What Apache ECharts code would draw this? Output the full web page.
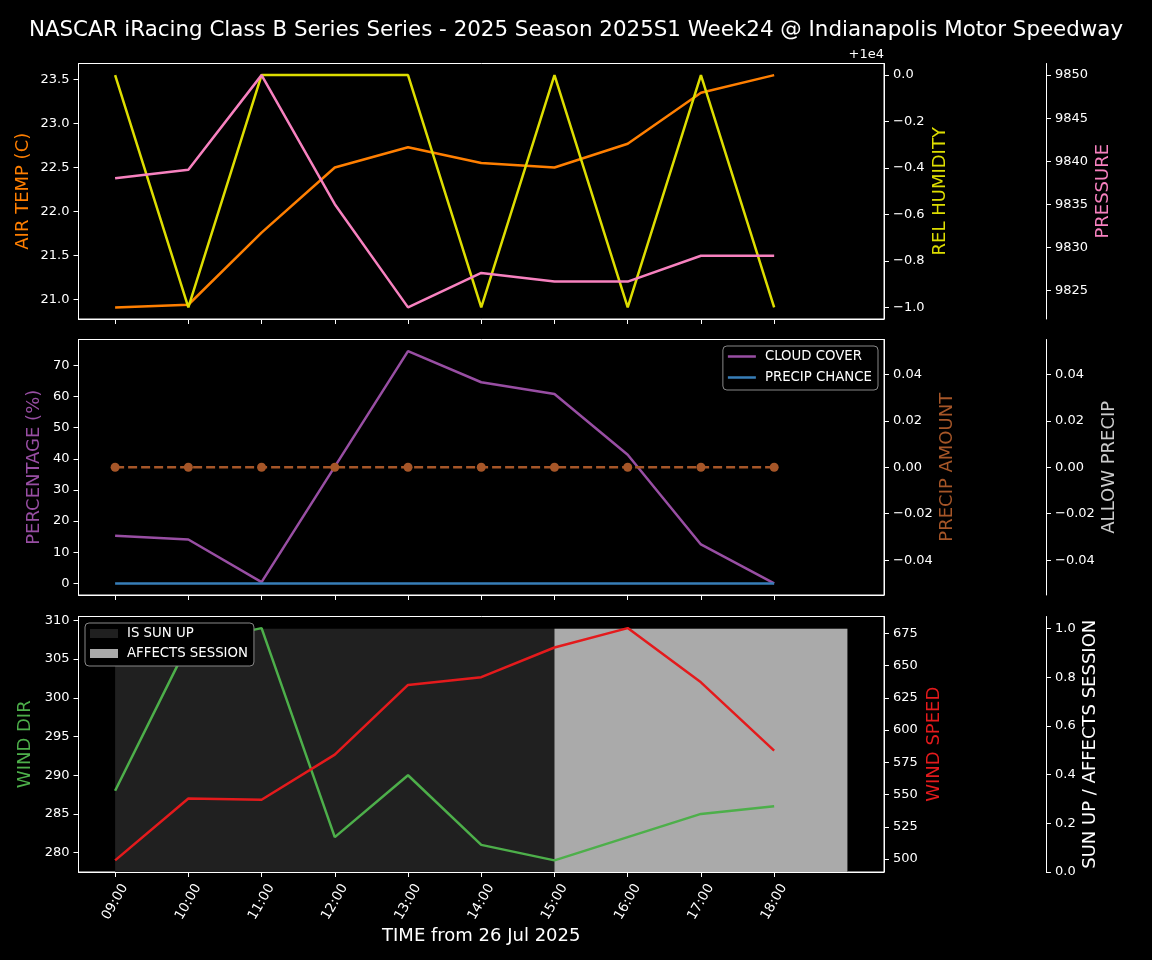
<!DOCTYPE html>
<html>
<head>
<meta charset="utf-8">
<script src="https://cdn.jsdelivr.net/npm/echarts@6/dist/echarts.min.js"></script>
<style>
html,body{margin:0;padding:0;background:#000;}
#chart{width:1152px;height:960px;}
</style>
</head>
<body>
<div id="chart"></div>
<script>
// ---- data ----
var timeLabels = ['09:00','10:00','11:00','12:00','13:00','14:00','15:00','16:00','17:00','18:00'];
var airTemp = [20.91, 20.94, 21.76, 22.50, 22.73, 22.55, 22.50, 22.77, 23.35, 23.55];
var relHumidity = [10000, 9999, 10000, 10000, 10000, 9999, 10000, 9999, 10000, 9999];
var pressure = [9838, 9839, 9850, 9835, 9823, 9827, 9826, 9826, 9829, 9829];
var cloudCover = [15.3, 14.1, 0.4, 37.5, 74.6, 64.6, 60.8, 41.3, 12.5, 0.0];
var precipChance = [0, 0, 0, 0, 0, 0, 0, 0, 0, 0];
var precipAmount = [0, 0, 0, 0, 0, 0, 0, 0, 0, 0];
var windDir = [288, 307, 309, 282, 290, 281, 279, 282, 285, 286];
var windSpeed = [499, 547, 546, 581, 635, 641, 664, 679, 637, 584];
// hourly 09:00 .. 19:00
var isSunUp = [1, 1, 1, 1, 1, 1, 1, 1, 1, 1, 1];
var affectsSession = [0, 0, 0, 0, 0, 0, 1, 1, 1, 1, 1];

var tempTicks = [21.0, 21.5, 22.0, 22.5, 23.0, 23.5];
var humTicks = [9999, 9999.2, 9999.4, 9999.6, 9999.8, 10000];
var presTicks = [9825, 9830, 9835, 9840, 9845, 9850];
var pctTicks = [0, 10, 20, 30, 40, 50, 60, 70];
var precipTicks = [-0.04, -0.02, 0, 0.02, 0.04];
var dirTicks = [280, 285, 290, 295, 300, 305, 310];
var speedTicks = [500, 525, 550, 575, 600, 625, 650, 675];
var sunTicks = [0, 0.2, 0.4, 0.6, 0.8, 1.0];

// ---- helpers ----
function pad(arrs) {
  var all = [].concat.apply([], arrs);
  var mn = Math.min.apply(null, all), mx = Math.max.apply(null, all);
  if (mn === mx) { mn -= 0.05; mx += 0.05; }
  var r = mx - mn;
  return {min: mn - 0.05 * r, max: mx + 0.05 * r};
}
function pts(arr) { return arr.map(function (v, i) { return [i, v]; }); }
function minus(s) { return s.replace('-', '\u2212'); }

var FONT = 'DejaVu Sans';
var TICKFS = 13;
var LW = 2.5;
var tickIdx = timeLabels.map(function (_, i) { return i; });
var gridTops = [63.5, 339.5, 616.5];
var GH = 255.5;

var grids = gridTops.map(function (t) {
  return {left: 78.5, width: 805.5, top: t, height: GH, show: true,
    borderColor: '#ffffff', borderWidth: 1, backgroundColor: '#000', containLabel: false};
});

var xAxes = gridTops.map(function (t, gi) {
  var bottom = gi === 2;
  return {
    type: 'value', gridIndex: gi, min: -0.5, max: 10.5,
    axisLine: {show: true, onZero: false, lineStyle: {color: '#fff', width: 1}},
    axisTick: {show: true, length: 5, lineStyle: {color: '#fff'}, customValues: tickIdx},
    axisLabel: {show: bottom, customValues: tickIdx, rotate: 60, color: '#fff',
      fontSize: 13.5, fontFamily: FONT, margin: 30, align: 'center', verticalAlign: 'middle',
      formatter: function (v) { return timeLabels[Math.round(v)] || ''; }},
    splitLine: {show: false},
    name: bottom ? 'TIME from 26 Jul 2025' : '',
    nameLocation: 'middle', nameGap: 55, nameMoveOverlap: false,
    nameTextStyle: {color: '#fff', fontSize: 18, fontFamily: FONT}
  };
});

function yAx(o) {
  return {
    type: 'value', gridIndex: o.grid, position: o.pos, offset: o.offset || 0,
    min: o.range.min, max: o.range.max,
    axisLine: {show: true, onZero: false, lineStyle: {color: '#fff', width: 1}},
    axisTick: {show: true, length: 5, lineStyle: {color: '#fff'}, customValues: o.ticks},
    axisLabel: {customValues: o.ticks, color: '#fff', fontSize: TICKFS, fontFamily: FONT, margin: 9,
      formatter: o.fmt},
    splitLine: {show: false},
    name: o.name, nameLocation: 'middle', nameGap: o.gap, nameRotate: 90, nameMoveOverlap: false,
    nameTextStyle: {color: o.color, fontSize: 18, fontFamily: FONT}
  };
}

var precipRange = pad([precipAmount]);
var yAxes = [
  yAx({grid: 0, pos: 'left', range: pad([airTemp]), ticks: tempTicks, name: 'AIR TEMP (C)', color: '#ff7f00', gap: 46,
       fmt: function (v) { return v.toFixed(1); }}),
  yAx({grid: 0, pos: 'right', range: pad([relHumidity]), ticks: humTicks, name: 'REL HUMIDITY', color: '#dddd00', gap: 47,
       fmt: function (v) { var s = (v - 10000).toFixed(1); if (s === '-0.0') s = '0.0'; return minus(s); }}),
  yAx({grid: 0, pos: 'right', offset: 162, range: pad([pressure]), ticks: presTicks, name: 'PRESSURE', color: '#f781bf', gap: 48,
       fmt: function (v) { return String(Math.round(v)); }}),
  yAx({grid: 1, pos: 'left', range: pad([cloudCover, precipChance]), ticks: pctTicks, name: 'PERCENTAGE (%)', color: '#984ea3', gap: 35,
       fmt: function (v) { return String(Math.round(v)); }}),
  yAx({grid: 1, pos: 'right', range: precipRange, ticks: precipTicks, name: 'PRECIP AMOUNT', color: '#a65628', gap: 54,
       fmt: function (v) { var s = v.toFixed(2); if (s === '-0.00') s = '0.00'; return minus(s); }}),
  yAx({grid: 1, pos: 'right', offset: 162, range: precipRange, ticks: precipTicks, name: 'ALLOW PRECIP', color: '#cccccc', gap: 54,
       fmt: function (v) { var s = v.toFixed(2); if (s === '-0.00') s = '0.00'; return minus(s); }}),
  yAx({grid: 2, pos: 'left', range: pad([windDir]), ticks: dirTicks, name: 'WIND DIR', color: '#4daf4a', gap: 44,
       fmt: function (v) { return String(Math.round(v)); }}),
  yAx({grid: 2, pos: 'right', range: pad([windSpeed]), ticks: speedTicks, name: 'WIND SPEED', color: '#e41a1c', gap: 41,
       fmt: function (v) { return String(Math.round(v)); }}),
  yAx({grid: 2, pos: 'right', offset: 162, range: {min: 0, max: 1.05}, ticks: sunTicks, name: 'SUN UP / AFFECTS SESSION', color: '#ffffff', gap: 35,
       fmt: function (v) { return v.toFixed(1); }})
];

function lineS(name, data, xi, yi, color, z, extra) {
  var s = {name: name, type: 'line', xAxisIndex: xi, yAxisIndex: yi, data: pts(data),
    symbol: 'none', color: color, lineStyle: {color: color, width: LW}, itemStyle: {color: color},
    z: z, animation: false, silent: true};
  if (extra) for (var k in extra) s[k] = extra[k];
  return s;
}

var series = [
  lineS('AIR TEMP', airTemp, 0, 0, '#ff7f00', 3),
  lineS('REL HUMIDITY', relHumidity, 0, 1, '#dddd00', 4),
  lineS('PRESSURE', pressure, 0, 2, '#f781bf', 5),
  lineS('CLOUD COVER', cloudCover, 1, 3, '#984ea3', 3),
  lineS('PRECIP CHANCE', precipChance, 1, 3, '#377eb8', 4),
  lineS('PRECIP AMOUNT', precipAmount, 1, 4, '#a65628', 5,
    {symbol: 'circle', symbolSize: 9, lineStyle: {color: '#a65628', width: LW, type: [9, 4]}}),
  {name: 'IS SUN UP', type: 'line', xAxisIndex: 2, yAxisIndex: 8,
    data: pts(isSunUp.map(function (v) { return v ? v : null; })),
    symbol: 'none', color: '#202020', itemStyle: {color: '#202020'},
    lineStyle: {width: 0, color: '#202020'}, areaStyle: {color: '#202020', opacity: 1, origin: 'start'},
    z: 1, animation: false, silent: true},
  {name: 'AFFECTS SESSION', type: 'line', xAxisIndex: 2, yAxisIndex: 8,
    data: pts(affectsSession.map(function (v) { return v ? v : null; })),
    symbol: 'none', color: '#aaaaaa', itemStyle: {color: '#aaaaaa'},
    lineStyle: {width: 0, color: '#aaaaaa'}, areaStyle: {color: '#aaaaaa', opacity: 1, origin: 'start'},
    z: 2, animation: false, silent: true},
  lineS('WIND DIR', windDir, 2, 6, '#4daf4a', 3),
  lineS('WIND SPEED', windSpeed, 2, 7, '#e41a1c', 4)
];

var legendText = {color: '#fff', fontSize: 13.3, fontFamily: FONT, padding: [0, 0, 0, 4]};
var chart = echarts.init(document.getElementById('chart'), null, {renderer: 'canvas'});
chart.setOption({
  backgroundColor: '#000',
  animation: false,
  title: {text: 'NASCAR iRacing Class B Series Series - 2025 Season 2025S1 Week24 @ Indianapolis Motor Speedway',
    left: 'center', top: 15,
    textStyle: {color: '#fff', fontSize: 21.4, fontWeight: 'normal', fontFamily: FONT}},
  grid: grids,
  xAxis: xAxes,
  yAxis: yAxes,
  legend: [
    {data: [{name: 'CLOUD COVER', icon: 'rect'}, {name: 'PRECIP CHANCE', icon: 'rect'}],
     orient: 'vertical', right: 274, top: 346,
     padding: [4, 6, 6, 5], itemGap: 8, itemWidth: 28, itemHeight: 2.5,
     backgroundColor: '#000', borderColor: '#888', borderWidth: 1, borderRadius: 4,
     textStyle: legendText, selectedMode: false},
    {data: [{name: 'IS SUN UP', icon: 'rect'}, {name: 'AFFECTS SESSION', icon: 'rect'}],
     orient: 'vertical', left: 85, top: 623,
     padding: [4, 6, 6, 5], itemGap: 7, itemWidth: 28, itemHeight: 9,
     backgroundColor: '#000', borderColor: '#888', borderWidth: 1, borderRadius: 4,
     textStyle: legendText, selectedMode: false}
  ],
  graphic: [
    {type: 'text', right: 1152 - 884, top: 48,
     style: {text: '+1e4', fill: '#fff', font: '13px "DejaVu Sans"'}}
  ],
  series: series
});
</script>
</body>
</html>
